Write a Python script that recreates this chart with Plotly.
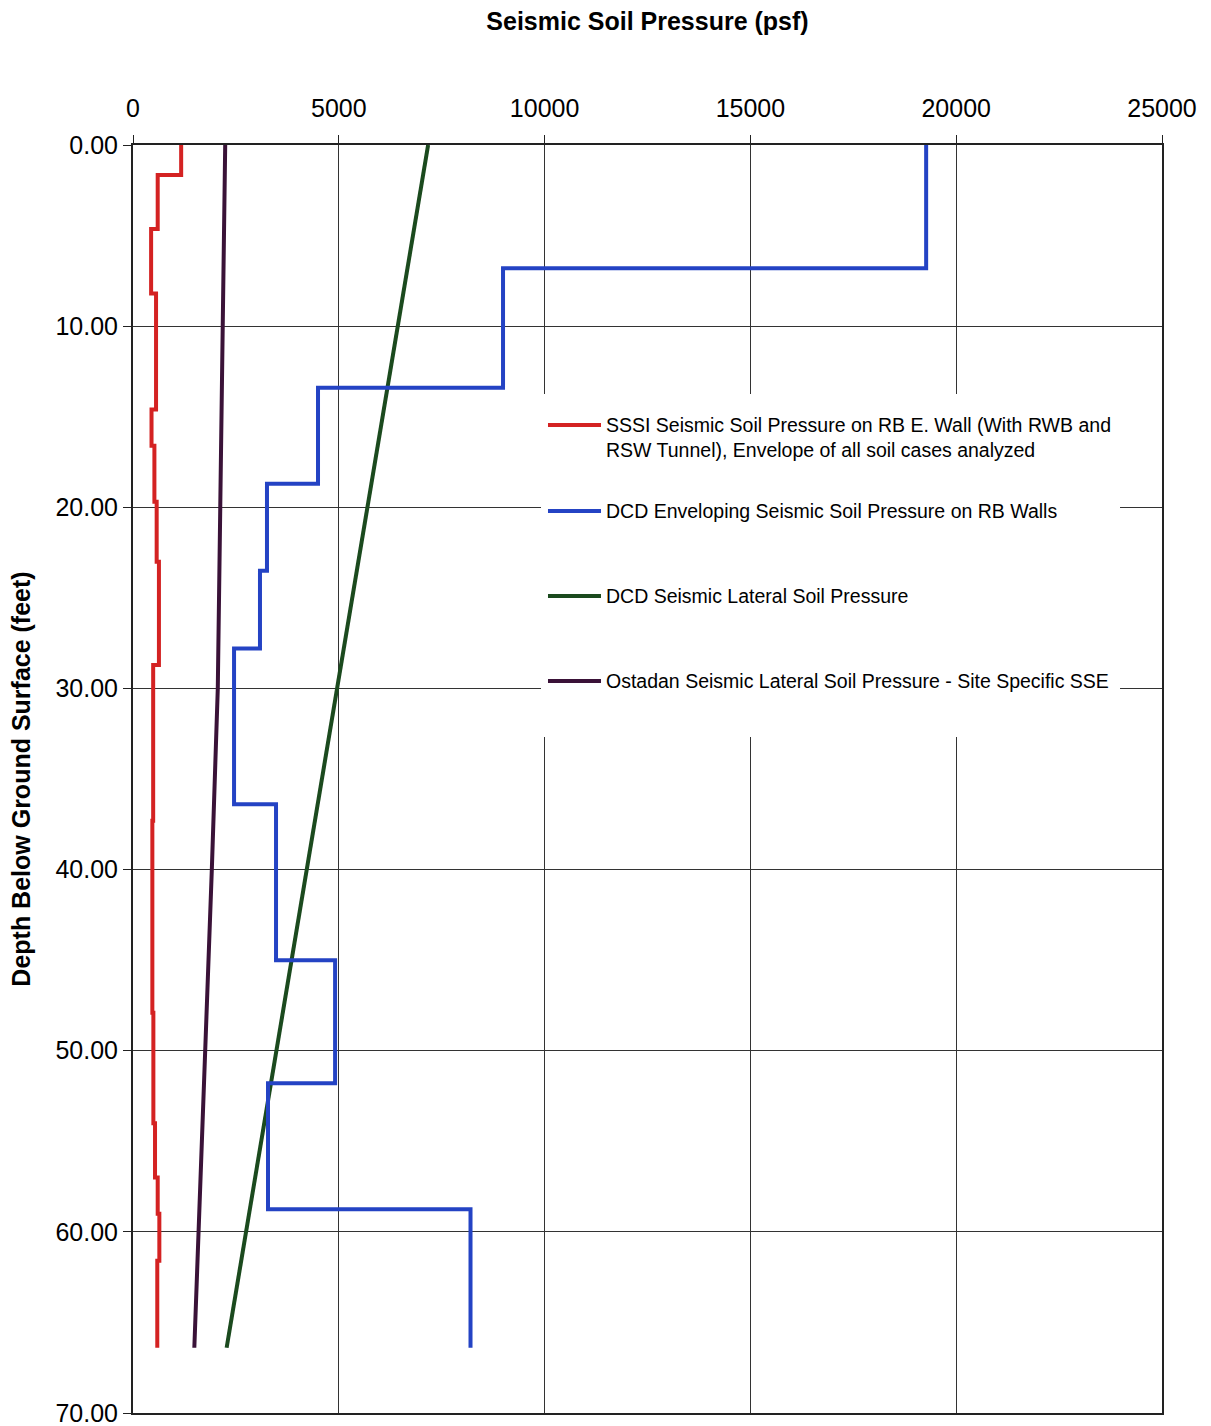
import plotly.graph_objects as go

# ---- data -------------------------------------------------------------
# SSSI envelope (step profile): depth at top of each step and pressure below it
sssi_depth = [0, 1.66, 4.64, 8.2, 14.6, 16.6, 19.7, 23.0, 28.7, 37.3, 47.9, 54.0, 57.0, 59.0, 61.6, 66.4]
sssi_psf = [1170, 600, 440, 560, 450, 520, 575, 630, 490, 470, 495, 535, 600, 640, 590, 590]

# DCD enveloping pressure on RB walls (step profile)
dcd_env_depth = [0, 6.8, 13.4, 18.7, 23.5, 27.8, 36.4, 45.0, 51.8, 58.75, 66.4]
dcd_env_psf = [19270, 8990, 4495, 3255, 3085, 2455, 3475, 4910, 3280, 8200, 8200]

# DCD seismic lateral soil pressure (linear)
dcd_lat_depth = [0, 66.4]
dcd_lat_psf = [7170, 2275]

# Ostadan seismic lateral soil pressure - site specific SSE
ostadan_depth = [0, 10, 20, 30, 40, 50, 60, 66.4]
ostadan_psf = [2240, 2185, 2125, 2060, 1915, 1755, 1600, 1490]

x_ticks = [0, 5000, 10000, 15000, 20000, 25000]
y_ticks = [0, 10, 20, 30, 40, 50, 60, 70]

names = [
    "SSSI Seismic Soil Pressure on RB E. Wall (With RWB and<br>RSW Tunnel), Envelope of all soil cases analyzed",
    "DCD Enveloping Seismic Soil Pressure on RB Walls",
    "DCD Seismic Lateral Soil Pressure",
    "Ostadan Seismic Lateral Soil Pressure - Site Specific SSE",
]
colors = ["#d42222", "#2443c4", "#1b4a1e", "#3a1238"]

FONT = "Liberation Sans, Arial, sans-serif"

fig = go.Figure()
fig.add_trace(go.Scatter(x=ostadan_psf, y=ostadan_depth, mode="lines",
                         line=dict(color=colors[3], width=4), name=names[3]))
fig.add_trace(go.Scatter(x=dcd_lat_psf, y=dcd_lat_depth, mode="lines",
                         line=dict(color=colors[2], width=4), name=names[2]))
fig.add_trace(go.Scatter(x=dcd_env_psf, y=dcd_env_depth, mode="lines",
                         line=dict(color=colors[1], width=4, shape="vh"), name=names[1]))
fig.add_trace(go.Scatter(x=sssi_psf, y=sssi_depth, mode="lines",
                         line=dict(color=colors[0], width=4, shape="vh"), name=names[0]))

# ---- legend box (drawn in paper space) ---------------------------------
shapes = [dict(type="rect", xref="paper", yref="paper",
               x0=0.3965, x1=0.9592, y0=0.5331, y1=0.8036,
               fillcolor="white", line=dict(width=0), layer="above")]
key_y = [0.7792, 0.7114, 0.6443, 0.5773]
annotations = []
for i, (nm, col, ky) in enumerate(zip(names, colors, key_y)):
    shapes.append(dict(type="line", xref="paper", yref="paper",
                       x0=0.4033, x1=0.4548, y0=ky, y1=ky,
                       line=dict(color=col, width=4), layer="above"))
    annotations.append(dict(
        xref="paper", yref="paper", x=0.4575,
        y=0.7697 if i == 0 else ky, xanchor="left", yanchor="middle",
        text=nm, showarrow=False, align="left",
        font=dict(family=FONT, size=19.5, color="black")))

fig.update_layout(
    width=1211, height=1426,
    margin=dict(l=133, r=49, t=145, b=13),
    paper_bgcolor="white", plot_bgcolor="white",
    showlegend=False,
    shapes=shapes, annotations=annotations,
    font=dict(family=FONT, color="black"),
)

fig.update_xaxes(
    side="top", range=[0, 25000], tickvals=x_ticks,
    ticktext=[str(v) for v in x_ticks],
    ticks="outside", ticklen=8, tickcolor="#222", tickwidth=1,
    ticklabelstandoff=8, ticklabeloverflow="allow", automargin=False,
    tickfont=dict(family=FONT, size=25, color="black"),
    showgrid=True, gridcolor="#333", gridwidth=1,
    showline=True, linecolor="#222", linewidth=2, mirror=True,
    zeroline=False,
    title=dict(text="<b>Seismic Soil Pressure (psf)</b>",
               font=dict(family=FONT, size=25, color="black"), standoff=56),
)
fig.update_yaxes(
    range=[70, 0], tickvals=y_ticks,
    ticktext=[f"{v:.2f}" for v in y_ticks],
    ticks="outside", ticklen=8, tickcolor="#222", tickwidth=1,
    ticklabeloverflow="allow", automargin=False,
    tickfont=dict(family=FONT, size=25, color="black"),
    showgrid=True, gridcolor="#333", gridwidth=1,
    showline=True, linecolor="#222", linewidth=2, mirror=True,
    zeroline=False,
    title=dict(text="<b>Depth Below Ground Surface (feet)</b>",
               font=dict(family=FONT, size=25, color="black"), standoff=18),
)

fig.write_html("out.html")
